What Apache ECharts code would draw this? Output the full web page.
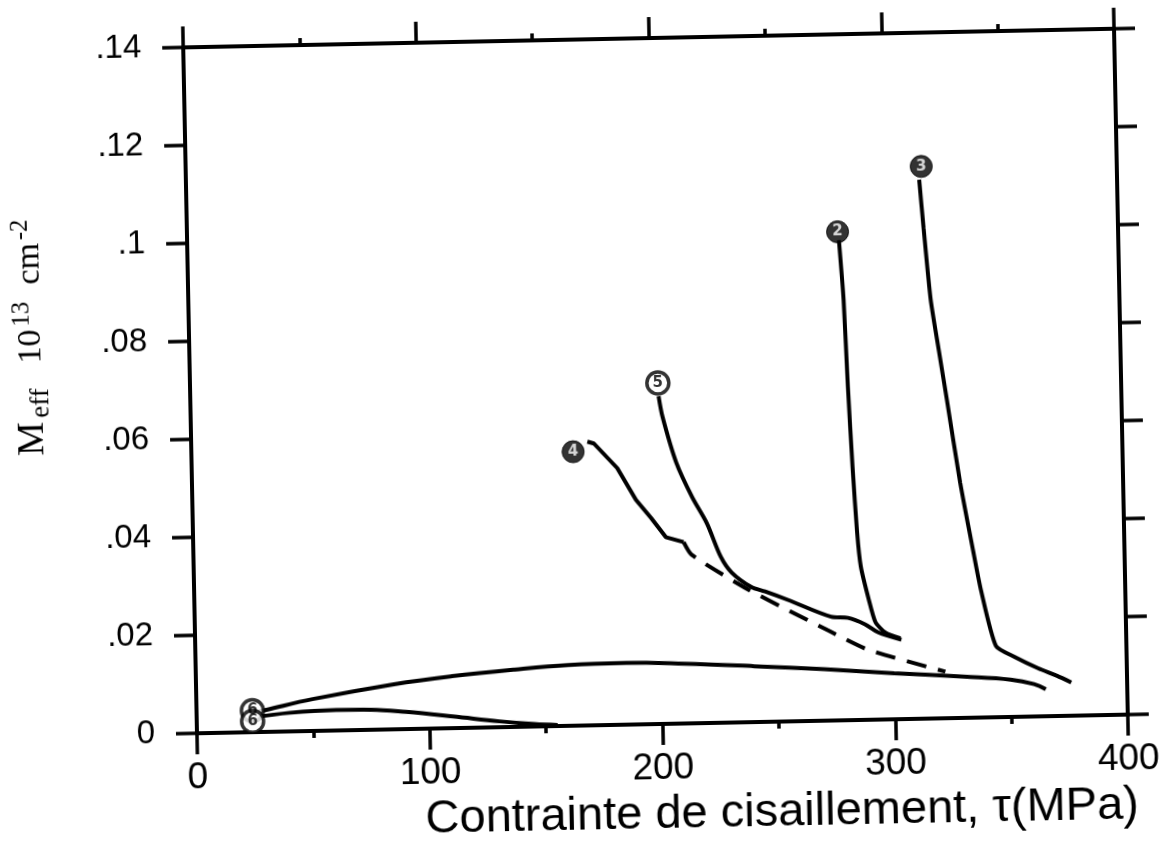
<!DOCTYPE html>
<html>
<head>
<meta charset="utf-8">
<script src="https://cdn.jsdelivr.net/npm/echarts@6/dist/echarts.min.js"></script>
<style>
html,body{margin:0;padding:0;background:#fff;}
#chart{width:1173px;height:852px;transform:rotate(-1.15deg);transform-origin:656px 381px;}
</style>
</head>
<body>
<div id="chart"></div>
<script>
// ---- data ----
const xTicks = [0, 100, 200, 300, 400];
const yTickLabels = ['0', '.02', '.04', '.06', '.08', '.1', '.12', '.14'];

const curve2 = [[280,0.098],[281.5,0.0858],[282.6,0.068],[283.9,0.0517],[285.3,0.0383],[286.6,0.0313],[289.7,0.0246],[292.4,0.0199],[296.6,0.0177],[303,0.0165]];
const curve3 = [[315,0.110],[316.5,0.1],[318.9,0.0855],[322,0.075],[325,0.065],[330,0.048],[335,0.034],[338,0.026],[344,0.0145],[352,0.0122],[362,0.0098],[370,0.0082],[376,0.0068]];
const curve4 = [[170.2,0.0579],[173,0.0575],[182.8,0.0524],[190.6,0.0458],[196.9,0.0421],[203.1,0.0381],[210.7,0.037]];
const curve4Dashed = [[210.7,0.037],[214,0.0344],[238.3,0.027],[273.2,0.0181],[289,0.0143],[322,0.0095]];
const curve5 = [[201.2,0.0669],[202.7,0.0627],[208.2,0.0533],[214.7,0.0462],[220.8,0.0408],[226.5,0.0339],[231.1,0.0306],[239.3,0.0276],[245.3,0.0266],[255,0.0248],[273.3,0.0212],[280.6,0.0209],[287.9,0.0195],[293.5,0.0178],[303.4,0.0162]];
const curve6Upper = [[25,0.004],[30,0.0045],[50,0.0065],[85,0.0092],[110,0.0106],[137,0.0117],[160,0.0124],[185,0.0126],[210,0.0122],[240,0.0114],[270,0.0105],[300,0.0094],[330,0.0084],[350,0.0076],[360,0.0066],[365,0.0055]];
const curve6Lower = [[25,0.003],[40,0.0038],[60,0.0042],[75,0.0041],[90,0.0035],[110,0.0024],[130,0.0012],[145,0.0005],[155,0.0002]];

// curve labels: [x, y, text]
const labelsFilled = [[279.5,0.0997,'2'],[316,0.1127,'3'],[164,0.0559,'4']];
const labelsOpen = [[201,0.0696,'5'],[24,0.0044,'6'],[24,0.0022,'6']];

// ---- chart ----
const chart = echarts.init(document.getElementById('chart'), null, {renderer:'canvas'});
const black = '#000';
const lineSeries = (data, extra) => Object.assign({
  type:'line', data:data, showSymbol:false, symbol:'none', smooth:0.3,
  lineStyle:{color:black, width:4}, z:3, silent:true
}, extra || {});

const axisLineStyle = {color:black, width:4};
const tickStyle = {color:black, width:3.5};

chart.setOption({
  backgroundColor:'#fff',
  animation:false,
  grid:{left:190, top:38, width:931, height:686, containLabel:false, outerBoundsMode:'none'},
  xAxis:[
    {
      type:'value', position:'bottom', min:0, max:400, interval:100,
      axisLine:{show:true, onZero:false, lineStyle:axisLineStyle},
      splitLine:{show:false},
      axisTick:{show:true, length:21, lineStyle:tickStyle},
      minorTick:{show:true, splitNumber:2, length:7, lineStyle:tickStyle},
      axisLabel:{margin:26, fontFamily:'Liberation Sans, Arial, sans-serif', fontSize:37, color:black,
        formatter:(v)=> xTicks.indexOf(v) >= 0 ? String(v) : ''},
      name:'Contrainte de cisaillement, τ(MPa)',
      nameLocation:'middle', nameGap:56,
      nameTextStyle:{fontFamily:'Liberation Sans, Arial, sans-serif', fontSize:47, color:black,
        padding:[0,0,0,236]}
    },
    {
      type:'value', position:'top', min:0, max:400, interval:100,
      axisLine:{show:true, onZero:false, lineStyle:axisLineStyle},
      splitLine:{show:false},
      axisTick:{show:true, length:21, lineStyle:tickStyle},
      minorTick:{show:true, splitNumber:2, length:7, lineStyle:tickStyle},
      axisLabel:{show:false}
    }
  ],
  yAxis:[
    {
      type:'value', position:'left', min:0, max:0.14, interval:0.02,
      axisLine:{show:true, onZero:false, lineStyle:axisLineStyle},
      splitLine:{show:false},
      axisTick:{show:true, length:21, lineStyle:tickStyle},
      axisLabel:{margin:42, fontFamily:'Liberation Sans, Arial, sans-serif', fontSize:33, color:black,
        formatter:(v)=> yTickLabels[Math.round(v/0.02)]},
      name:'{m|M}{sub|eff}{n|  10}{sup|13}{n|  cm}{sup|-2}',
      nameLocation:'middle', nameGap:136, nameRotate:90,
      nameTextStyle:{fontFamily:'Liberation Serif, Times New Roman, serif', color:black,
        padding:[0,0,0,112],
        rich:{
          m:{fontFamily:'Liberation Serif, serif', fontSize:38, color:black},
          n:{fontFamily:'Liberation Serif, serif', fontSize:34, color:black},
          sub:{fontFamily:'Liberation Serif, serif', fontSize:27, color:black, padding:[0,8,0,4], verticalAlign:'bottom'},
          sup:{fontFamily:'Liberation Serif, serif', fontSize:25, color:black, padding:[0,0,18,3]}
        }}
    },
    {
      type:'value', position:'right', min:0, max:0.14, interval:0.02,
      axisLine:{show:true, onZero:false, lineStyle:axisLineStyle},
      splitLine:{show:false},
      axisTick:{show:true, length:21, lineStyle:tickStyle},
      axisLabel:{show:false}
    }
  ],
  series:[
    lineSeries(curve2, {smooth:0.2}),
    lineSeries(curve3, {smooth:0.2}),
    lineSeries(curve4, {smooth:false}),
    lineSeries(curve4Dashed, {smooth:0.2, lineStyle:{color:black, width:4, type:[20,12]}}),
    lineSeries(curve5, {smooth:0.3}),
    lineSeries(curve6Upper, {smooth:0.4}),
    lineSeries(curve6Lower, {smooth:0.4}),
    {
      type:'scatter', z:5, silent:true,
      data: labelsFilled.map(d => ({value:[d[0], d[1]], name:d[2]})),
      symbol:'circle', symbolSize:22,
      itemStyle:{color:black, borderColor:black, borderWidth:1},
      label:{show:true, position:'inside', formatter:(p)=>p.name, color:'#fff',
        fontFamily:'DejaVu Sans, sans-serif', fontWeight:'bold', fontSize:15}
    },
    {
      type:'scatter', z:5, silent:true,
      data: labelsOpen.map(d => ({value:[d[0], d[1]], name:d[2]})),
      symbol:'circle', symbolSize:22,
      itemStyle:{color:'#fff', borderColor:black, borderWidth:3.5},
      label:{show:true, position:'inside', formatter:(p)=>p.name, color:black,
        fontFamily:'DejaVu Sans, sans-serif', fontWeight:'bold', fontSize:15}
    }
  ]
});
</script>
</body>
</html>
